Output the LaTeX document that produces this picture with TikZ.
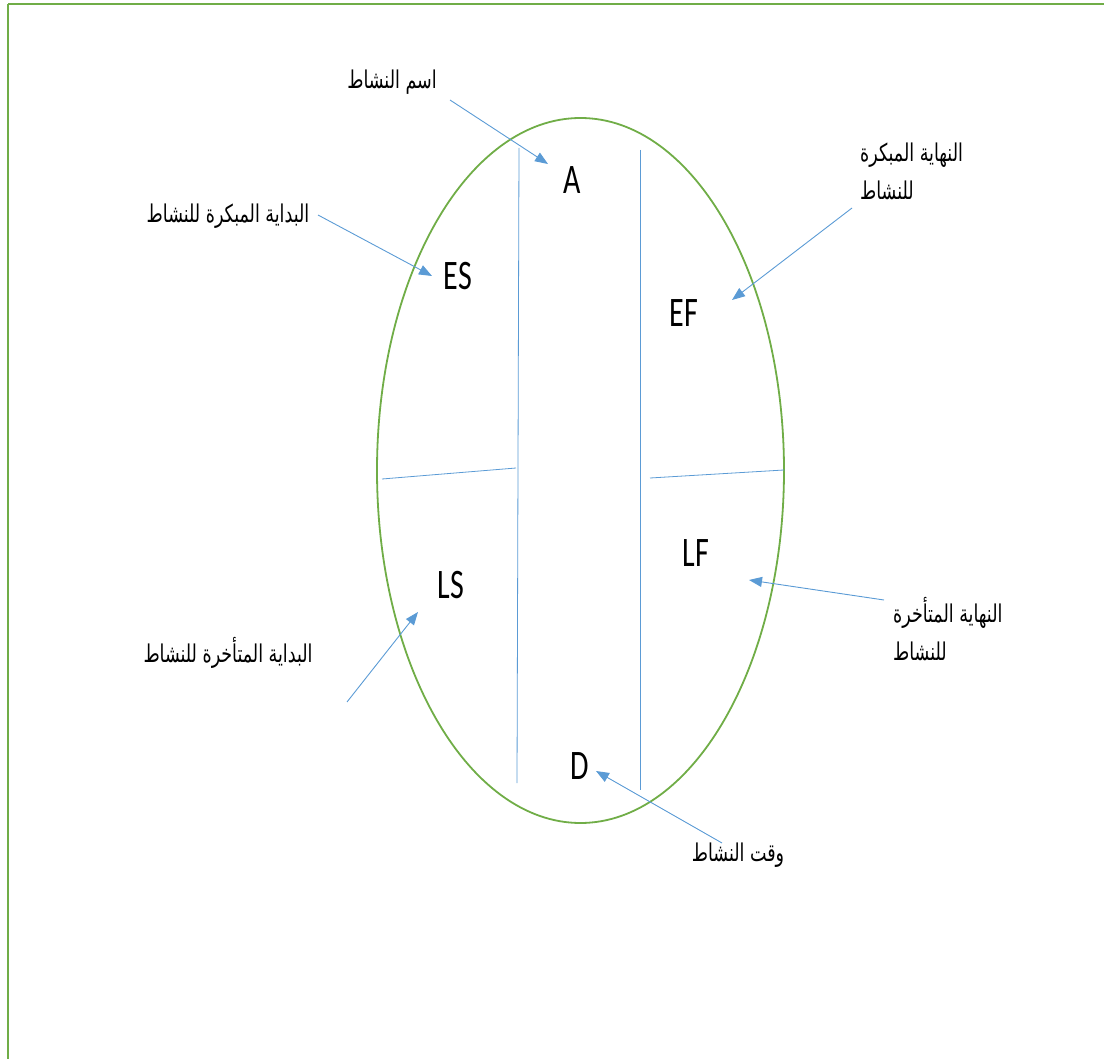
\documentclass[tikz,border=0pt]{standalone}
\usepackage{fontspec}
\usepackage{graphicx}
\usetikzlibrary{arrows.meta}
\TeXXeTstate=1
\newfontfamily\arabicfont[Script=Arabic]{DejaVu Sans}
\newfontfamily\latinfont{Carlito}
\definecolor{ogreen}{HTML}{70AD47}
\definecolor{oblue}{HTML}{5B9BD5}
\newcommand{\tallA}[1]{\scalebox{1}[1.4]{#1}}
\tikzset{
  letter/.style={font=\latinfont\fontsize{30}{30}\selectfont, inner sep=0pt},
  arlabel/.style={font=\arabicfont\fontsize{17.5}{38}\selectfont, inner sep=0pt, align=left},
  pointer/.style={draw=oblue, line width=0.9pt, -{Triangle[length=13pt,width=10pt]}},
  divider/.style={draw=oblue, line width=0.8pt},
}
\begin{document}
\begin{tikzpicture}[x=1pt,y=-1pt]
\useasboundingbox (0,0) rectangle (1104,1059);
% frame
\draw[ogreen, line width=2pt] (8,4) -- (1104,4);
\draw[ogreen, line width=1.5pt] (8,4) -- (8,1059);
% ellipse
\draw[ogreen, line width=1.8pt] (580.5,470.5) ellipse [x radius=203.5, y radius=352.5];
% dividers
\draw[divider] (519,148) -- (517,783);
\draw[divider] (640,150) -- (640,790);
\draw[divider] (382,479) -- (516,468);
\draw[divider] (650,478) -- (784,470);
% letters
\node[letter] (A) at (572,180) {\tallA{A}};
\node[letter] (ES) at (458,276) {\tallA{ES}};
\node[letter] (EF) at (684,313) {\tallA{EF}};
\node[letter] (LS) at (451,585) {\tallA{LS}};
\node[letter] (LF) at (696,553) {\tallA{LF}};
\node[letter] (D) at (580,766) {\tallA{D}};
% labels
\node[arlabel] (lname) at (392,82) {\tallA{\beginR اسم النشاط\endR}};
\node[arlabel] (les) at (228,216) {\tallA{\beginR البداية المبكرة للنشاط\endR}};
\node[arlabel, anchor=north west] (lef) at (860,143) {\tallA{\beginR النهاية المبكرة\endR}\\\tallA{\beginR للنشاط\endR}};
\node[arlabel] (lls) at (228,653) {\tallA{\beginR البداية المتأخرة للنشاط\endR}};
\node[arlabel, anchor=north west] (llf) at (893,597) {\tallA{\beginR النهاية المتأخرة\endR}\\\tallA{\beginR للنشاط\endR}};
\node[arlabel] (ld) at (738,855) {\tallA{\beginR وقت النشاط\endR}};
% pointer coordinates
\coordinate (pname) at (450,100);
\coordinate (pes) at (318,215);
\coordinate (pef) at (852,208);
\coordinate (pls) at (347,702);
\coordinate (plf) at (884,600);
\coordinate (pd) at (722,843);
\coordinate (tA) at (548,164);
\coordinate (tES) at (432,276);
\coordinate (tEF) at (732,300);
\coordinate (tLS) at (418,612);
\coordinate (tLF) at (749,580);
\coordinate (tD) at (596,771);
\draw[pointer] (pname) -- (tA);
\draw[pointer] (pes) -- (tES);
\draw[pointer] (pef) -- (tEF);
\draw[pointer] (pls) -- (tLS);
\draw[pointer] (plf) -- (tLF);
\draw[pointer] (pd) -- (tD);
\end{tikzpicture}
\end{document}
